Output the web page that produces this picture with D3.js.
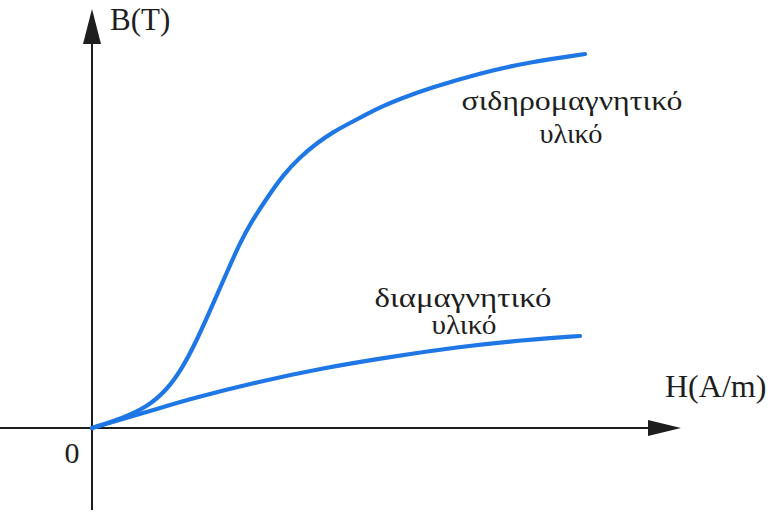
<!DOCTYPE html>
<html>
<head>
<meta charset="utf-8">
<script src="https://cdn.jsdelivr.net/npm/d3@7"></script>
<style>
  html, body { margin: 0; padding: 0; background: #fff; }
  svg { display: block; }
  text { font-family: "Liberation Serif", "DejaVu Serif", serif; fill: #1e1e1e; }
</style>
</head>
<body>
<svg id="chart" width="770" height="513"></svg>
<script>
// Magnetisation curves B(H) — field strength H vs flux density B (arbitrary units)
const ferroH = [0, 5.41, 9.60, 13.09, 15.88, 18.32, 21.12, 23.56, 25.83, 27.57, 30.54, 33.33, 36.30, 39.27, 42.06, 45.03, 47.99, 50.79, 53.75, 58.99, 67.71, 76.44, 86.04];
const ferroB = [0, 2.40, 5.05, 9.13, 14.66, 21.15, 29.81, 37.50, 44.47, 49.04, 55.29, 60.82, 65.14, 68.51, 71.15, 73.32, 75.48, 77.40, 79.09, 81.73, 85.34, 87.98, 89.90];

const diaH = [0, 5.41, 11.34, 17.10, 28.80, 40.31, 52.01, 63.70, 75.22, 85.17];
const diaB = [0, 2.16, 4.57, 6.97, 11.06, 14.42, 17.07, 19.47, 21.15, 22.12];

const seriesLabels = [["σιδηρομαγνητικό", "υλικό"], ["διαμαγνητικό", "υλικό"]];
const axisLabels = { x: "H(A/m)", y: "B(T)", origin: "0" };

const svg = d3.select("#chart");

const x = d3.scaleLinear().domain([0, 100]).range([92, 665]);
const y = d3.scaleLinear().domain([0, 100]).range([428, 12]);

const ink = "#1e1e1e";
const blue = "#1f77e6";

// --- axes (no ticks, arrow heads at the positive ends) ---
const x0 = x(0), y0 = y(0);

// horizontal axis
svg.append("line")
  .attr("x1", 0).attr("y1", y0)
  .attr("x2", 655).attr("y2", y0)
  .attr("stroke", ink).attr("stroke-width", 2);
svg.append("path")
  .attr("d", `M648,${y0 - 8} L681,${y0} L648,${y0 + 8} Z`)
  .attr("fill", ink);

// vertical axis
svg.append("line")
  .attr("x1", x0).attr("y1", 510)
  .attr("x2", x0).attr("y2", 40)
  .attr("stroke", ink).attr("stroke-width", 2);
svg.append("path")
  .attr("d", `M${x0 - 9},44 L${x0},9 L${x0 + 9},44 Z`)
  .attr("fill", ink);

// axis labels
svg.append("text").attr("x", 110).attr("y", 30)
  .attr("font-size", 31).text(axisLabels.y);
svg.append("text").attr("x", 665).attr("y", 397)
  .attr("font-size", 32).text(axisLabels.x);
svg.append("text").attr("x", 72).attr("y", 463)
  .attr("font-size", 30).attr("text-anchor", "middle").text(axisLabels.origin);

// --- curves (B-spline through the sampled points for a smooth trace) ---
const line = d3.line()
  .x(d => x(d[0]))
  .y(d => y(d[1]))
  .curve(d3.curveBasis);

const series = [
  d3.zip(ferroH, ferroB),
  d3.zip(diaH, diaB)
];

svg.selectAll("path.curve")
  .data(series)
  .join("path")
  .attr("class", "curve")
  .attr("d", line)
  .attr("fill", "none")
  .attr("stroke", blue)
  .attr("stroke-width", 4.2)
  .attr("stroke-linecap", "round")
  .attr("stroke-linejoin", "round");

// --- curve labels (centred): [centre x, baseline, width] per line ---
const labelPos = [
  [[572, 110, 221], [571, 143, 63]],
  [[463, 307, 177], [464, 334, 65]]
];
seriesLabels.forEach((lbl, i) => {
  lbl.forEach((t, j) => {
    const [cx, ly, lw] = labelPos[i][j];
    svg.append("text")
      .attr("x", cx - lw / 2)
      .attr("y", ly)
      .attr("font-size", 27)
      .attr("textLength", lw)
      .attr("lengthAdjust", "spacingAndGlyphs")
      .text(t);
  });
});
</script>
</body>
</html>
